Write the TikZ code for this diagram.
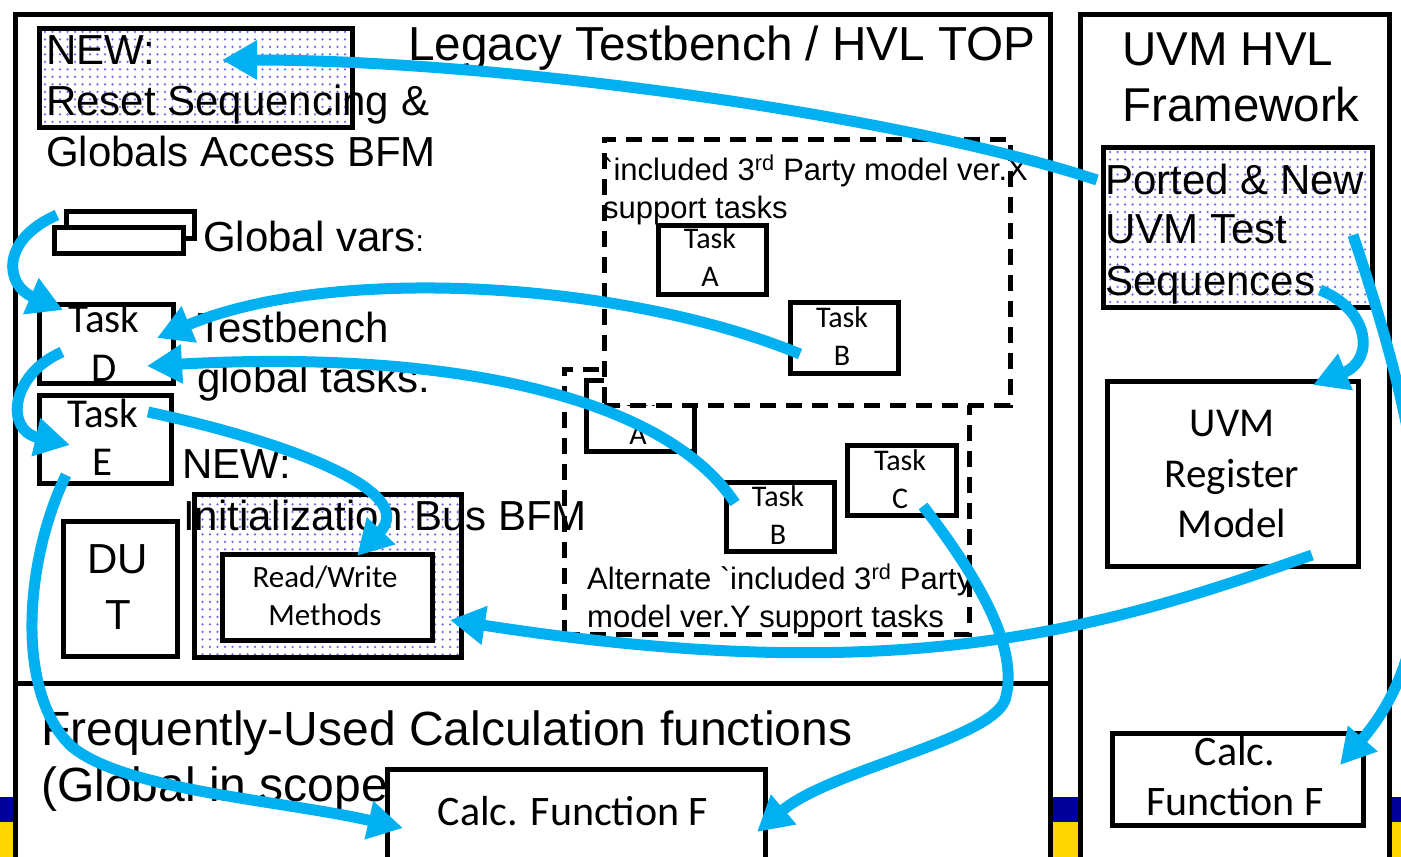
\documentclass[tikz,border=0pt]{standalone}
\usepackage{fontspec}
\setmainfont{Liberation Sans}[Ligatures=TeXOff]
\newfontfamily\calfont{Carlito}
\usetikzlibrary{arrows.meta,patterns.meta}
\definecolor{arrowblue}{HTML}{00B0F0}
\definecolor{barblue}{HTML}{000099}
\definecolor{baryellow}{HTML}{FFD700}
\definecolor{dotcol}{RGB}{105,105,245}
\newcommand\setfs[1]{\fontsize{#1}{#1}\selectfont}
\begin{document}
\begin{tikzpicture}[x=1pt,y=-1pt,
  frame/.style={draw,line width=5pt,fill=white},
  box/.style={draw,line width=4.5pt,fill=white,inner sep=0pt,anchor=north west},
  dotbox/.style={draw,line width=4.5pt,preaction={fill=white},pattern={Dots[distance=7.5pt,radius=1.25pt]},pattern color=dotcol,inner sep=0pt,anchor=north west},
  dashbox/.style={draw,line width=4.5pt,dash pattern=on 16pt off 10pt,fill=white,inner sep=0pt,anchor=north west},
  lt/.style={inner sep=0pt,anchor=base west,font=\setfs{42}},
  ct/.style={inner sep=0pt,anchor=base,font=\calfont\setfs{30}},
  conn/.style={draw=arrowblue,line width=11pt,-{Triangle[length=35pt,width=37pt]}}]
\useasboundingbox (0,0) rectangle (1401,857);
% bottom bars
\fill[barblue] (0,797) rectangle (1401,822);
\fill[baryellow] (0,822) rectangle (1401,857);
% frames
\node[frame,inner sep=0pt,anchor=north west,minimum width=1035pt,minimum height=880pt] (lframe) at (13,12) {};
\node[frame,inner sep=0pt,anchor=north west,minimum width=309pt,minimum height=880pt] (rframe) at (1078,12) {};
\coordinate (divL) at (13,683);
\coordinate (divR) at (1048,683);
\draw[line width=5pt] (divL) -- (divR);
% left boxes
\node[dotbox,minimum width=313pt,minimum height=99pt] (reset) at (37,26) {};
\node[box,minimum width=128pt,minimum height=27pt] (gvback) at (64,209) {};
\node[box,minimum width=129pt,minimum height=26pt] (gvfront) at (52,225) {};
\node[box,minimum width=134pt,minimum height=79pt] (taskD) at (37,302) {};
\node[box,minimum width=132pt,minimum height=88pt] (taskE) at (37,393) {};
\node[dotbox,minimum width=267pt,minimum height=163pt] (initbox) at (192,492) {};
\node[box,minimum width=210pt,minimum height=86pt] (rw) at (220,552) {};
\node[box,minimum width=114pt,minimum height=135pt] (dut) at (61,519) {};
\node[box,minimum width=378pt,minimum height=120pt] (calcL) at (385,767) {};
% dashed box Y (behind)
\node[dashbox,minimum width=405pt,minimum height=265pt] (dashY) at (562,367) {};
\node[box,minimum width=108pt,minimum height=71pt] (tA2) at (584,378) {};
\node[ct] (tA2a) at (638,406) {Task};
\node[ct] (tA2b) at (638,444) {A};
\node[box,minimum width=108pt,minimum height=69pt] (tB2) at (724,480) {};
\node[box,minimum width=109pt,minimum height=70pt] (tC) at (845,443) {};
% dashed box X (front)
\node[dashbox,minimum width=406pt,minimum height=266pt] (dashX) at (602,137) {};
\node[box,minimum width=108pt,minimum height=69pt] (tA1) at (656,223) {};
\node[box,minimum width=108pt,minimum height=71pt] (tB1) at (788,300) {};
% right boxes
\node[dotbox,minimum width=269pt,minimum height=160pt] (ported) at (1101,145) {};
\node[box,minimum width=251pt,minimum height=185pt] (uvmreg) at (1105,379) {};
\node[box,minimum width=251pt,minimum height=92pt] (calcR) at (1110,731) {};
% texts
\node[lt,font=\setfs{47.7}] (title) at (408,60) {Legacy Testbench / HVL TOP};
\node[lt] (r1) at (46,64) {NEW:};
\node[lt] (r2) at (46,115) {Reset Sequencing \&};
\node[lt] (r3) at (46,166) {Globals Access BFM};
\node[lt] (gv) at (203,251) {Global vars{\setfs{30}:}};
\node[lt] (tb1) at (197,342) {Testbench};
\node[lt] (tb2) at (197,392) {global tasks:};
\node[lt] (n1) at (182,478) {NEW:};
\node[lt] (n2) at (183,530) {Initialization Bus BFM};
\node[ct,font=\setfs{42}] (dut1) at (118,573) {DU};
\node[ct,font=\setfs{42}] (dut2) at (118,629) {T};
\node[lt,font=\setfs{48}] (f1) at (41,745) {Frequently-Used Calculation functions};
\node[lt,font=\setfs{48}] (f2) at (41,801) {(Global in scope};
\node[lt,font=\setfs{31}] (x1) at (603,180) {\char"60 included 3\textsuperscript{rd} Party model ver.X};
\node[lt,font=\setfs{31}] (x2) at (603,218) {support tasks};
\node[lt,font=\setfs{31}] (y1) at (587,589) {Alternate \char"60 included 3\textsuperscript{rd} Party};
\node[lt,font=\setfs{31}] (y2) at (587,627) {model ver.Y support tasks};
\node[lt,font=\setfs{47.5}] (u1) at (1122,65) {UVM HVL};
\node[lt,font=\setfs{47.5}] (u2) at (1122,121) {Framework};
\node[lt] (p1) at (1105,194) {Ported \& New};
\node[lt] (p2) at (1105,243) {UVM Test};
\node[lt] (p3) at (1105,295) {Sequences};
\node[ct,font=\calfont\setfs{41}] (tD1) at (104,332) {Task};
\node[ct,font=\calfont\setfs{41}] (tD2) at (104,381) {D};
\node[ct,font=\calfont\setfs{41}] (tE1) at (103,427) {Task};
\node[ct,font=\calfont\setfs{41}] (tE2) at (103,475) {E};
\node[ct] (tA1a) at (710,248) {Task};
\node[ct] (tA1b) at (710,286) {A};
\node[ct] (tB1a) at (842,327) {Task};
\node[ct] (tB1b) at (842,365) {B};
\node[ct] (tB2a) at (778,506) {Task};
\node[ct] (tB2b) at (778,544) {B};
\node[ct] (tCa) at (900,470) {Task};
\node[ct] (tCb) at (900,508) {C};
\node[ct,font=\calfont\setfs{31}] (rw1) at (325,587) {Read/Write};
\node[ct,font=\calfont\setfs{31}] (rw2) at (325,625) {Methods};
\node[ct,font=\calfont\setfs{42}] (cl) at (573,825) {Calc. Function F};
\node[ct,font=\calfont\setfs{41}] (ur1) at (1232,436) {UVM};
\node[ct,font=\calfont\setfs{41}] (ur2) at (1232,487) {Register};
\node[ct,font=\calfont\setfs{41}] (ur3) at (1232,537) {Model};
\node[ct,font=\calfont\setfs{42}] (cr1) at (1235,765) {Calc.};
\node[ct,font=\calfont\setfs{42}] (cr2) at (1235,815) {Function F};
% connector end points
\coordinate (a1s) at (1097,180); \coordinate (a1e) at (222,60);
\coordinate (a2s) at (57,215);   \coordinate (a2e) at (63,310);
\coordinate (a3s) at (800,354);  \coordinate (a3e) at (157,338);
\coordinate (a4s) at (735,503);  \coordinate (a4e) at (147,366);
\coordinate (a5s) at (62,352);   \coordinate (a5e) at (70,445);
\coordinate (a6s) at (148,412);  \coordinate (a6e) at (357,556);
\coordinate (a7s) at (66,475);   \coordinate (a7m) at (70,745); \coordinate (a7e) at (403,828);
\coordinate (a8s) at (923,506);  \coordinate (a8m) at (1005,700); \coordinate (a8e) at (757,832);
\coordinate (a9s) at (1312,555); \coordinate (a9e) at (450,620);
\coordinate (a10s) at (1320,290); \coordinate (a10e) at (1313,385);
\coordinate (a11s) at (1353,235); \coordinate (a11e) at (1340,765);
% connectors
\draw[conn] (a1s) .. controls (900,115) and (500,60) .. (a1e);
\draw[conn] (a2s) .. controls (0,240) and (5,285) .. (a2e);
\draw[conn] (a3s) .. controls (620,280) and (330,265) .. (a3e);
\draw[conn] (a4s) .. controls (660,390) and (430,350) .. (a4e);
\draw[conn] (a5s) .. controls (10,375) and (5,430) .. (a5e);
\draw[conn] (a6s) .. controls (280,440) and (420,490) .. (a6e);
\draw[conn] (a7s) .. controls (25,560) and (15,690) .. (a7m) .. controls (120,790) and (280,800) .. (a7e);
\draw[conn] (a8s) .. controls (980,580) and (1020,650) .. (a8m) .. controls (990,740) and (830,770) .. (a8e);
\draw[conn] (a9s) .. controls (1100,630) and (900,690) .. (a9e);
\draw[conn] (a10s) .. controls (1370,310) and (1375,360) .. (a10e);
\draw[conn] (a11s) .. controls (1415,420) and (1465,620) .. (a11e);
\end{tikzpicture}
\end{document}
